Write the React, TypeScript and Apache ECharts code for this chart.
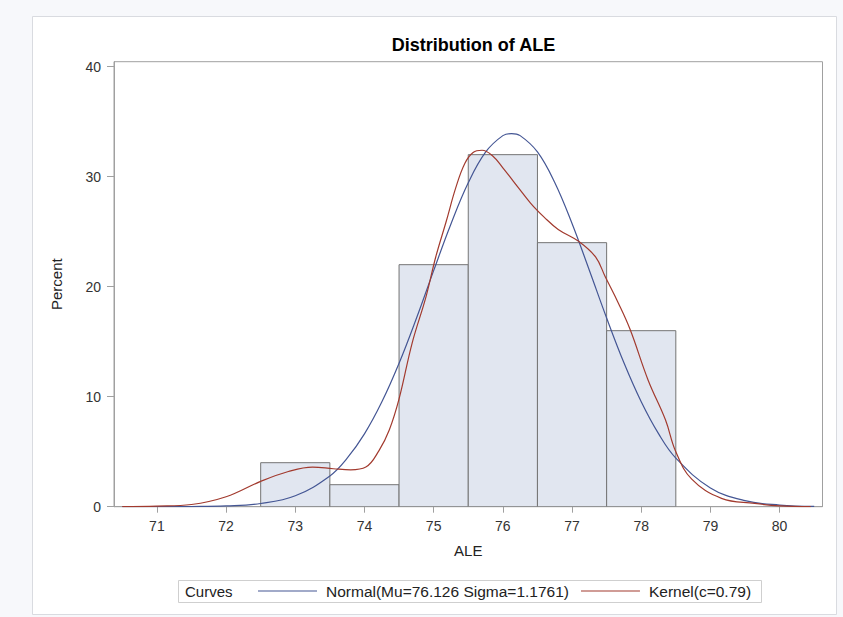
import React, { useEffect, useRef } from "react";
import * as echarts from "echarts";

// ---- data ----
const chartTitle = "Distribution of ALE";
const xName = "ALE";
const yName = "Percent";
const binCenters = [73, 74, 75, 76, 77, 78];
const binPercents = [4, 2, 22, 32, 24, 16];
const binWidth = 1;
const xTicks = [71, 72, 73, 74, 75, 76, 77, 78, 79, 80];
const yTicks = [0, 10, 20, 30, 40];
const normalName = "Normal(Mu=76.126 Sigma=1.1761)";
const kernelName = "Kernel(c=0.79)";
const normalX = [70.5, 71, 71.5, 72, 72.5, 73, 73.5, 73.75, 74, 74.25, 74.5, 74.75, 75, 75.25, 75.5, 75.75, 76, 76.126, 76.25, 76.5, 76.75, 77, 77.25, 77.5, 77.75, 78, 78.25, 78.5, 79, 79.5, 80, 80.5];
const normalY = [0.0, 0.003, 0.015, 0.07, 0.29, 0.99, 2.8, 4.41, 6.62, 9.51, 13.04, 17.11, 21.46, 25.7, 29.44, 32.23, 33.73, 33.92, 33.73, 32.25, 29.47, 25.74, 21.49, 17.15, 13.08, 9.54, 6.64, 4.42, 1.71, 0.55, 0.15, 0.03];
const kernelX = [70.5, 71, 71.5, 72, 72.5, 72.9, 73.25, 73.55, 73.8, 74.02, 74.21, 74.36, 74.5, 74.69, 74.89, 75.03, 75.18, 75.32, 75.45, 75.57, 75.7, 75.85, 76.0, 76.15, 76.4, 76.6, 76.8, 77.1, 77.34, 77.48, 77.67, 77.84, 78.1, 78.35, 78.5, 78.73, 79.16, 79.64, 80.0, 80.45];
const kernelY = [0, 0.05, 0.2, 0.9, 2.3, 3.2, 3.6, 3.45, 3.35, 3.6, 5.1, 7.0, 9.8, 14.9, 19.1, 22.7, 25.9, 29.0, 31.2, 32.2, 32.4, 31.9, 30.8, 29.6, 27.6, 26.3, 25.2, 24.1, 22.7, 20.9, 18.5, 16.1, 11.5, 7.9, 5.0, 2.5, 0.76, 0.3, 0.08, 0];

const FONT = "'Liberation Sans', Arial, sans-serif";

export default function App() {
  const ref = useRef<HTMLDivElement>(null);
  useEffect(() => {
    if (!ref.current) return;
    const chart = echarts.init(ref.current, null, { renderer: "svg" });
    const option: any = {
      animation: false,
      backgroundColor: "#f7f8fb",
      textStyle: { fontFamily: FONT },
      title: {
        text: chartTitle,
        left: 468.5,
        textAlign: "center",
        top: 31,
        textStyle: { fontSize: 18, fontWeight: "bold", color: "#000", fontFamily: FONT },
      },
      grid: {
        left: 114,
        right: 20.5,
        top: 61.7,
        bottom: 110.3,
        show: true,
        borderColor: "#a0a0a0",
        borderWidth: 1,
        backgroundColor: "transparent",
      },
      xAxis: {
        type: "value",
        min: 70.38,
        max: 80.62,
        name: xName,
        nameLocation: "middle",
        nameGap: 36,
        nameTextStyle: { fontSize: 15, color: "#222", fontFamily: FONT },
        axisLine: { show: true, lineStyle: { color: "#a0a0a0" } },
        axisTick: { show: true, length: 6, customValues: xTicks, lineStyle: { color: "#a0a0a0" } },
        axisLabel: { customValues: xTicks, margin: 12, fontSize: 14, color: "#333", fontFamily: FONT },
        splitLine: { show: false },
      },
      yAxis: {
        type: "value",
        min: 0,
        max: 40.45,
        name: yName,
        nameLocation: "middle",
        nameGap: 50,
        nameTextStyle: { fontSize: 15, color: "#222", fontFamily: FONT },
        axisLine: { show: true, lineStyle: { color: "#a0a0a0" } },
        axisTick: { show: true, length: 7, customValues: yTicks, lineStyle: { color: "#a0a0a0" } },
        axisLabel: { customValues: yTicks, margin: 13, fontSize: 14, color: "#333", fontFamily: FONT },
        splitLine: { show: false },
      },
      legend: {
        left: 258,
        top: 583,
        padding: 0,
        icon: "rect",
        itemWidth: 59,
        itemHeight: 1,
        itemGap: 12,
        data: [normalName, kernelName],
        textStyle: { fontSize: 15.5, color: "#222", fontFamily: FONT, padding: [0, 0, 0, 4] },
      },
      graphic: [
        {
          type: "rect",
          z: -100,
          silent: true,
          shape: { x: 32.5, y: 16.5, width: 804, height: 598 },
          style: { fill: "#ffffff", stroke: "#d9dbe0", lineWidth: 1 },
        },
        {
          type: "rect",
          silent: true,
          shape: { x: 178.5, y: 580.5, width: 583, height: 22 },
          style: { fill: "none", stroke: "#cfcfcf", lineWidth: 1 },
        },
        {
          type: "text",
          silent: true,
          x: 185,
          y: 591.5,
          style: { text: "Curves", fontSize: 15, fill: "#222", fontFamily: FONT, verticalAlign: "middle", align: "left" },
        },
      ],
      series: [
        {
          type: "custom",
          name: "Histogram",
          clip: true,
          z: 1,
          data: binCenters.map((c, i) => [c, binPercents[i]]),
          encode: { x: 0, y: 1 },
          renderItem: (params: any, api: any) => {
            const c = api.value(0);
            const v = api.value(1);
            const p0 = api.coord([c - binWidth / 2, v]);
            const p1 = api.coord([c + binWidth / 2, 0]);
            return {
              type: "rect",
              shape: { x: p0[0], y: p0[1], width: p1[0] - p0[0], height: p1[1] - p0[1] },
              style: { fill: "#e1e6f0", stroke: "#747474", lineWidth: 1 },
            };
          },
        },
        {
          type: "line",
          name: normalName,
          z: 3,
          smooth: 0.4,
          showSymbol: false,
          color: "#445694",
          lineStyle: { color: "#445694", width: 1.2 },
          data: normalX.map((x, i) => [x, normalY[i]]),
        },
        {
          type: "line",
          name: kernelName,
          z: 4,
          smooth: 0.4,
          showSymbol: false,
          color: "#a23a2e",
          lineStyle: { color: "#a23a2e", width: 1.2 },
          data: kernelX.map((x, i) => [x, kernelY[i]]),
        },
      ],
    };
    chart.setOption(option);
    return () => chart.dispose();
  }, []);
  return <div ref={ref} style={{ position: "fixed", left: 0, top: 0, width: 843, height: 617 }} />;
}
